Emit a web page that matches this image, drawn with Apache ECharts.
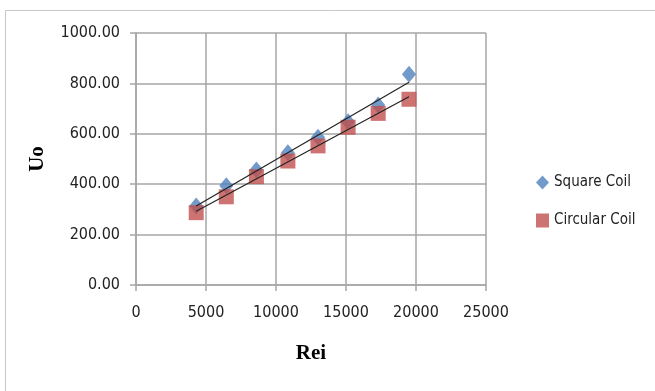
<!DOCTYPE html>
<html><head><meta charset="utf-8">
<script src="https://cdn.jsdelivr.net/npm/echarts@6/dist/echarts.min.js"></script>
<style>html,body{margin:0;padding:0;background:#fff}#c{width:655px;height:391px}</style>
</head><body><div id="c"></div>
<script>
const rei = [4300, 6450, 8600, 10850, 13000, 15150, 17300, 19500];
const squareCoil = [313, 394, 456, 525, 586, 648, 714, 836];
const circularCoil = [287, 350, 430, 492, 552, 626, 681, 737];
const xTicks = [0, 5000, 10000, 15000, 20000, 25000];
const yTicks = [0, 200, 400, 600, 800, 1000];

function pairs(xs, ys){ return xs.map((x,i)=>[x, ys[i]]); }
function fit(xs, ys){
  const n = xs.length;
  const mx = xs.reduce((a,b)=>a+b,0)/n, my = ys.reduce((a,b)=>a+b,0)/n;
  let sxy=0, sxx=0;
  for(let i=0;i<n;i++){ sxy += (xs[i]-mx)*(ys[i]-my); sxx += (xs[i]-mx)**2; }
  const b = sxy/sxx, a = my - b*mx;
  const x0 = xs[0], x1 = xs[n-1];
  return [[x0, a+b*x0],[x1, a+b*x1]];
}

const font = '"DejaVu Sans Condensed", "Liberation Sans", sans-serif';
const grey = '#a6a6a6';
const chart = echarts.init(document.getElementById('c'));
chart.setOption({
  animation: false,
  graphic: [{type:'rect', shape:{x:5.5, y:10.5, width:700, height:400}, style:{fill:'none', stroke:'#c8c8c8', lineWidth:1}, z:-1}],
  grid: {left:136, right:169, top:33, bottom:106},
  legend: {
    orient:'vertical', left:531, top:170, itemGap:23, itemWidth:13, itemHeight:14,
    textStyle:{fontFamily:font, fontSize:15, color:'#222'},
    data:[{name:'Square Coil', icon:'diamond'}, {name:'Circular Coil', icon:'rect'}]
  },
  xAxis: {
    type:'value', min:xTicks[0], max:xTicks[xTicks.length-1], interval:5000,
    name:'Rei', nameLocation:'middle', nameGap:58,
    nameTextStyle:{fontFamily:'"Liberation Serif", serif', fontWeight:'bold', fontSize:21, color:'#000'},
    axisLine:{show:true, lineStyle:{color:grey, width:1.5}},
    axisTick:{show:true, length:6, lineStyle:{color:grey, width:1.5}},
    axisLabel:{fontFamily:font, fontSize:16, color:'#222', margin:20, formatter:v=>String(v)},
    splitLine:{show:true, lineStyle:{color:grey, width:1.5}}
  },
  yAxis: {
    type:'value', min:yTicks[0], max:yTicks[yTicks.length-1], interval:200,
    name:'Uo', nameLocation:'middle', nameGap:88,
    nameTextStyle:{fontFamily:'"Liberation Serif", serif', fontWeight:'bold', fontSize:21, color:'#000'},
    axisLine:{show:true, lineStyle:{color:grey, width:1.5}},
    axisTick:{show:true, length:6, lineStyle:{color:grey, width:1.5}},
    axisLabel:{fontFamily:font, fontSize:16, color:'#222', margin:16, formatter:v=>v.toFixed(2)},
    splitLine:{show:true, lineStyle:{color:grey, width:1.5}}
  },
  series: [
    {name:'Square Coil', type:'scatter', symbol:'diamond', symbolSize:[14,17], itemStyle:{color:'#4f81bd'}, data:pairs(rei, squareCoil), z:2},
    {name:'Circular Coil', type:'scatter', symbol:'rect', symbolSize:15, itemStyle:{color:'#c0504d'}, data:pairs(rei, circularCoil), z:3},
    {name:'sqTrend', type:'line', data:fit(rei, squareCoil), symbol:'none', silent:true, lineStyle:{color:'#222', width:1.2}, z:5},
    {name:'ciTrend', type:'line', data:fit(rei, circularCoil), symbol:'none', silent:true, lineStyle:{color:'#222', width:1.2}, z:5}
  ]
});
</script></body></html>
